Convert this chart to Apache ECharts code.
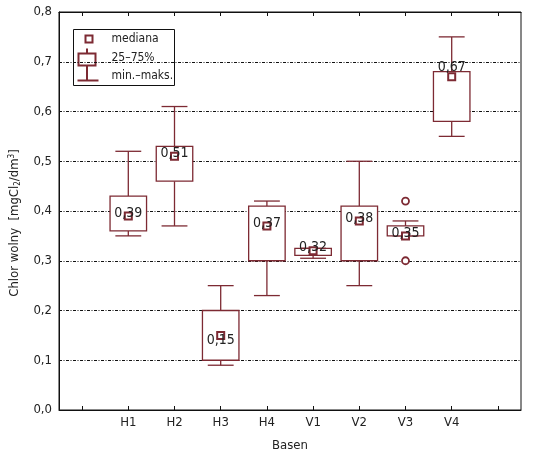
<!DOCTYPE html>
<html>
<head>
<meta charset="utf-8">
<script src="https://cdn.jsdelivr.net/npm/echarts@6/dist/echarts.min.js"></script>
<style>
  html, body { margin: 0; padding: 0; background: #fff; }
  #main { width: 533px; height: 457px; }
</style>
</head>
<body>
<div id="main"></div>
<script>
// categories (blank slots at both ends, as in the original axis)
const categories = ["", "H1", "H2", "H3", "H4", "V1", "V2", "V3", "V4", ""];
const basins = ["H1", "H2", "H3", "H4", "V1", "V2", "V3", "V4"];
const minVals = [0.35, 0.37, 0.09, 0.23, 0.305, 0.25, 0.35, 0.55];
const q1Vals = [0.36, 0.46, 0.10, 0.30, 0.311, 0.30, 0.35, 0.58];
const medians = [0.39, 0.51, 0.15, 0.37, 0.32, 0.38, 0.35, 0.67];
const q3Vals = [0.43, 0.53, 0.20, 0.41, 0.325, 0.41, 0.37, 0.68];
const maxVals = [0.52, 0.61, 0.25, 0.42, 0.325, 0.50, 0.38, 0.75];
const outliers = [["V3", 0.42], ["V3", 0.30]];
const yTicks = [0, 0.1, 0.2, 0.3, 0.4, 0.5, 0.6, 0.7, 0.8];

const RED = "#7d2a33";
const FONT = "'DejaVu Sans Condensed', 'Liberation Sans Narrow', sans-serif";

const fmt = (v) => v.toFixed(2).replace(".", ",");

let chart = echarts.init(document.getElementById("main"), null, { renderer: "canvas" });

const boxData = basins.map((b, i) => [b, minVals[i], q1Vals[i], medians[i], q3Vals[i], maxVals[i]]);

function renderBox(params, api) {
  const x = api.value(0);
  const pMin = api.coord([x, api.value(1)]);
  const pQ1 = api.coord([x, api.value(2)]);
  const pQ3 = api.coord([x, api.value(4)]);
  const pMax = api.coord([x, api.value(5)]);
  const band = api.size([1, 0])[0];
  const bw = band * 0.79;
  const cw = band * 0.56;
  const cx = pQ1[0];
  const style = { stroke: RED, lineWidth: 1.3, fill: null };
  const children = [
    { type: "line", shape: { x1: cx, y1: pMax[1], x2: cx, y2: pQ3[1] }, style: style },
    { type: "line", shape: { x1: cx, y1: pQ1[1], x2: cx, y2: pMin[1] }, style: style },
    { type: "line", shape: { x1: cx - cw / 2, y1: pMax[1], x2: cx + cw / 2, y2: pMax[1] }, style: style },
    { type: "line", shape: { x1: cx - cw / 2, y1: pMin[1], x2: cx + cw / 2, y2: pMin[1] }, style: style },
    { type: "rect", shape: { x: cx - bw / 2, y: pQ3[1], width: bw, height: pQ1[1] - pQ3[1] }, style: { stroke: RED, lineWidth: 1.3, fill: "#fff" } },
  ];
  return { type: "group", children: children };
}

const labelOffsets = { H3: [0, 5], V4: [0, -9] };

const option = {
  animation: false,
  backgroundColor: "#fff",
  grid: {
    left: 52, right: 12, top: 12, bottom: 47,
    show: true, borderColor: "#111", borderWidth: 1,
  },
  xAxis: [
    {
      type: "category",
      data: categories,
      boundaryGap: true,
      name: "Basen",
      nameLocation: "middle",
      nameGap: 29,
      nameTextStyle: { fontFamily: FONT, fontSize: 13, color: "#222" },
      axisLine: { lineStyle: { color: "#111" } },
      axisTick: { show: true, inside: true, alignWithLabel: true, length: 4, lineStyle: { color: "#111" } },
      axisLabel: { fontFamily: FONT, fontSize: 13, color: "#222", margin: 6, interval: 0 },
    },
    {
      type: "category",
      position: "top",
      data: categories,
      boundaryGap: true,
      axisLine: { lineStyle: { color: "#111" } },
      axisTick: { show: true, inside: true, alignWithLabel: true, length: 4, lineStyle: { color: "#111" } },
      axisLabel: { show: false },
    },
  ],
  yAxis: {
    type: "value",
    min: yTicks[0],
    max: yTicks[yTicks.length - 1],
    interval: 0.1,
    name: "{a|Chlor wolny  [mgCl}{s|2}{a|/dm}{p|3}{a|]}",
    nameLocation: "middle",
    nameGap: 37,
    nameTextStyle: {
      padding: [0, 24, 0, 0],
      rich: {
        a: { fontFamily: FONT, fontSize: 13, color: "#222" },
        s: { fontFamily: FONT, fontSize: 8, color: "#222", verticalAlign: "bottom", padding: [6, 0, 0, 0] },
        p: { fontFamily: FONT, fontSize: 8, color: "#222", verticalAlign: "top", padding: [0, 0, 6, 0] },
      },
    },
    axisLine: { show: true, lineStyle: { color: "#111" } },
    axisTick: { show: false },
    axisLabel: {
      fontFamily: FONT, fontSize: 13, color: "#222", margin: 7,
      formatter: (v) => v.toFixed(1).replace(".", ","),
    },
    splitLine: { show: true, lineStyle: { color: "#111", width: 1, type: [3, 1.5, 1, 1.5] } },
  },
  series: [
    {
      type: "custom",
      renderItem: renderBox,
      encode: { x: 0, y: [1, 2, 3, 4, 5] },
      data: boxData,
      z: 2,
    },
    {
      type: "scatter",
      symbol: "rect",
      symbolSize: 7,
      itemStyle: { color: "#fff", borderColor: RED, borderWidth: 2, opacity: 1 },
      label: {
        show: true,
        position: "inside",
        offset: [0, -3],
        fontFamily: FONT,
        fontSize: 14,
        color: "#222",
        formatter: (p) => fmt(p.value[1]),
      },
      data: basins.map((b, i) => {
        const item = { value: [b, medians[i]] };
        if (labelOffsets[b]) item.label = { offset: labelOffsets[b] };
        return item;
      }),
      z: 4,
    },
    {
      type: "scatter",
      symbol: "circle",
      symbolSize: 7,
      itemStyle: { color: "#fff", borderColor: RED, borderWidth: 1.8, opacity: 1 },
      data: outliers,
      z: 4,
    },
  ],
  graphic: [
    {
      type: "group",
      left: 73,
      top: 29,
      z: 10,
      children: [
        { type: "rect", shape: { x: 0, y: 0, width: 101, height: 56 }, style: { fill: "#fff", stroke: "#111", lineWidth: 1 } },
        { type: "rect", shape: { x: 12, y: 6, width: 7, height: 7 }, style: { fill: "#fff", stroke: RED, lineWidth: 2 } },
        { type: "line", shape: { x1: 13.5, y1: 19, x2: 13.5, y2: 24 }, style: { stroke: RED, lineWidth: 2 } },
        { type: "rect", shape: { x: 5, y: 24, width: 17, height: 12 }, style: { fill: "#fff", stroke: RED, lineWidth: 2 } },
        { type: "line", shape: { x1: 13.5, y1: 36, x2: 13.5, y2: 51 }, style: { stroke: RED, lineWidth: 2 } },
        { type: "line", shape: { x1: 4, y1: 51, x2: 25, y2: 51 }, style: { stroke: RED, lineWidth: 2 } },
        { type: "text", x: 38, y: 9, style: { text: "mediana", font: "12px " + FONT, fill: "#222", verticalAlign: "middle" } },
        { type: "text", x: 38, y: 28, style: { text: "25–75%", font: "12px " + FONT, fill: "#222", verticalAlign: "middle" } },
        { type: "text", x: 38, y: 46, style: { text: "min.–maks.", font: "12px " + FONT, fill: "#222", verticalAlign: "middle" } },
      ],
    },
  ],
};

chart.setOption(option);
</script>
</body>
</html>
